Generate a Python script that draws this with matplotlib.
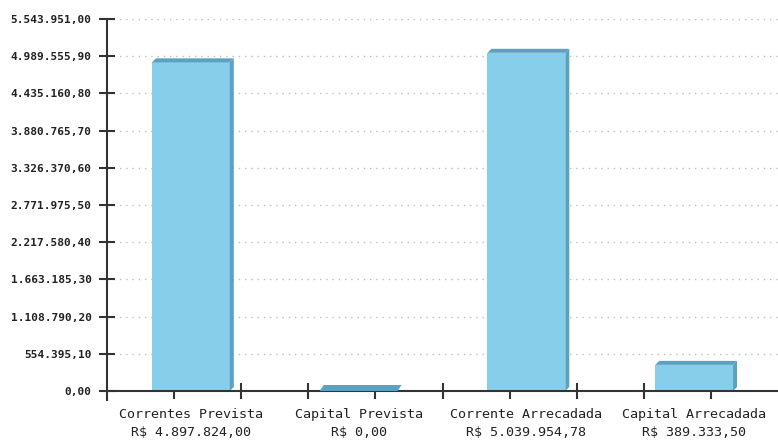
import matplotlib.pyplot as plt
import numpy as np
from matplotlib.patches import Polygon, Rectangle

# %% data
categories = ['Correntes Prevista', 'Capital Prevista',
              'Corrente Arrecadada', 'Capital Arrecadada']
values = [4897824.00, 0.00, 5039954.78, 389333.50]
y_max = 5543951.00
n_steps = 10


def brl(v):
    # brazilian number format 1.234.567,89
    s = f"{v:,.2f}"
    return s.replace(',', '#').replace('.', ',').replace('#', '.')


# %% figure and axes
fig = plt.figure(figsize=(7.78, 4.45), dpi=100)
ax = fig.add_axes([107 / 778, 1 - 400 / 445, 671 / 778, 381 / 445])

px_per_val = 372 / y_max
ax.set_xlim(0, 4)
ax.set_ylim(-9 / px_per_val, y_max)

face = '#87CEEB'
shade = '#5BA1C0'
dark = '#333333'

# %% depth of the 3d effect in data units
inv = ax.transData.inverted()
p0 = ax.transData.transform((0, 0))
dx, dy = inv.transform(p0 + np.array([4, 4])) - inv.transform(p0)
dy0 = dy / 2

width = 0.464
for i, v in enumerate(values):
    x0 = i + 0.5 - width / 2
    x1 = x0 + width
    ax.add_patch(Rectangle((x0, 0), width, v, facecolor=face,
                           edgecolor='none', zorder=3))
    if v > 0:
        top = [(x0, v), (x1, v), (x1 + dx, v + dy), (x0 + dx, v + dy)]
        side = [(x1, 0), (x1 + dx, dy), (x1 + dx, v + dy), (x1, v)]
        ax.add_patch(Polygon(side, closed=True, facecolor=shade,
                             edgecolor='none', zorder=3))
    else:
        # flat bar: only the lid is visible, sitting on the axis
        top = [(x0, 0), (x1, 0), (x1 + dx, dy0 + dy), (x0 + dx, dy0 + dy)]
    ax.add_patch(Polygon(top, closed=True, facecolor=shade,
                         edgecolor='none', zorder=5))

# %% y axis
yticks = np.linspace(0, y_max, n_steps + 1)
ax.set_yticks(yticks)
ax.set_yticklabels([brl(t) for t in yticks], family='DejaVu Sans Mono',
                   fontsize=8, fontweight='bold', color='#222222')
ax.tick_params(axis='y', direction='inout', length=12, width=1.5,
               color=dark, pad=5)
for t in yticks[1:]:
    ax.axhline(t, color='#bdbdbd', lw=1.0, ls=(0, (1, 3.5)), zorder=1)

# %% x axis
ax.spines['bottom'].set_position(('data', 0))
ax.spines['top'].set_visible(False)
ax.spines['right'].set_visible(False)
for s in ['left', 'bottom']:
    ax.spines[s].set_color(dark)
    ax.spines[s].set_linewidth(1.5)
    ax.spines[s].set_zorder(4)

ax.set_xticks([0.8, 1.2, 2.0, 2.8, 3.2])
ax.set_xticks([0.4, 1.6, 2.4, 3.6], minor=True)
ax.set_xticklabels([])
ax.tick_params(axis='x', which='major', direction='inout', length=12,
               width=1.5, color=dark)
ax.tick_params(axis='x', which='minor', direction='out', length=6,
               width=1.5, color=dark)

# category labels below the axis
label_y = ax.transAxes.inverted().transform(
    fig.transFigure.transform((0, 1 - 408 / 445)))[1]
trans = ax.get_xaxis_transform()
for i, (c, v) in enumerate(zip(categories, values)):
    ax.text(i + 0.5, label_y, c + '\nR$ ' + brl(v), transform=trans,
            ha='center', va='top', family='DejaVu Sans Mono',
            fontsize=9.6, color='#222222', linespacing=1.55)

fig.savefig('out.png', dpi=100)
